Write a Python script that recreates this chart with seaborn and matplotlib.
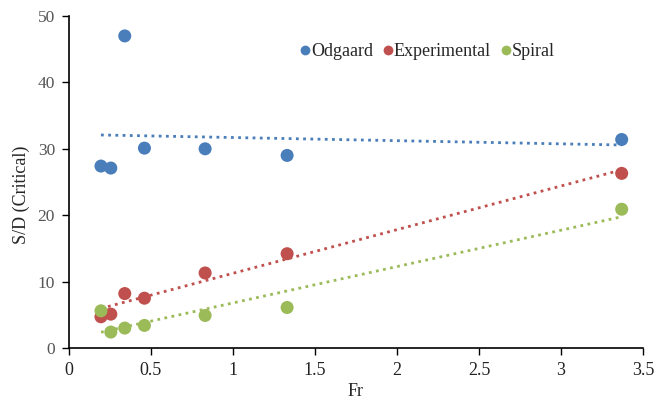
import numpy as np
import pandas as pd
import matplotlib
matplotlib.use("Agg")
import matplotlib.pyplot as plt
import seaborn as sns

fr = [0.195, 0.255, 0.34, 0.46, 0.83, 1.33, 3.37]
odgaard = [27.4, 27.1, 47.0, 30.1, 30.0, 29.0, 31.4]
experimental = [4.7, 5.1, 8.2, 7.5, 11.3, 14.2, 26.3]
spiral = [5.6, 2.4, 3.0, 3.4, 4.9, 6.1, 20.9]
series = ["Odgaard", "Experimental", "Spiral"]
colors = ["#4a7ebb", "#c0504d", "#9bbb59"]

df = pd.DataFrame({
    "Fr": fr * 3,
    "SD": odgaard + experimental + spiral,
    "Series": np.repeat(series, len(fr)),
})

sns.set_style("white")
plt.rcParams["font.family"] = ["Liberation Serif", "DejaVu Serif"]

fig = plt.figure(figsize=(6.56, 4.0), dpi=100)
ax = fig.add_axes([69 / 656, 52 / 400, 574 / 656, 332 / 400])

# dotted linear trendlines first, points on top
for name, col in zip(series, colors):
    sub = df[df["Series"] == name]
    sns.regplot(data=sub, x="Fr", y="SD", ax=ax, scatter=False, ci=None,
                truncate=True,
                line_kws=dict(color=col, linestyle=(0, (1, 1.6)), linewidth=2))

sns.scatterplot(data=df, x="Fr", y="SD", hue="Series", palette=colors,
                s=88, edgecolor="none", ax=ax, zorder=3)

ax.set_xlim(0, 3.5)
ax.set_ylim(0, 50)
ax.set_xticks(np.arange(0, 3.51, 0.5))
ax.set_xticklabels(["0", "0.5", "1", "1.5", "2", "2.5", "3", "3.5"])
ax.set_yticks(range(0, 51, 10))
ax.set_xlabel("Fr", fontsize=13, va="center")
ax.xaxis.set_label_coords(0.5, (348 - 391) / 332)
ax.set_ylabel("S/D (Critical)", fontsize=13, va="center")
ax.yaxis.set_label_coords((21 - 69) / 574, (348 - 195) / 332)
ax.tick_params(axis="x", labelsize=13, length=5, width=1, direction="out",
               bottom=True, pad=5, colors="black", labelcolor="#222222")
ax.tick_params(axis="y", labelsize=12.5, length=5, width=1, direction="out",
               left=True, pad=5, colors="black", labelcolor="#555555")
for s in ["top", "right"]:
    ax.spines[s].set_visible(False)
for s in ["left", "bottom"]:
    ax.spines[s].set_color("black")
    ax.spines[s].set_linewidth(1.2)

ax.legend(title=None, ncol=3, frameon=False, loc="center left",
          bbox_to_anchor=((285 - 69) / 574, (348 - 52) / 332),
          handletextpad=-0.35, columnspacing=0.1,
          handlelength=1.4, markerscale=0.75, fontsize=13, borderaxespad=0)

fig.savefig("out.png", dpi=100)
